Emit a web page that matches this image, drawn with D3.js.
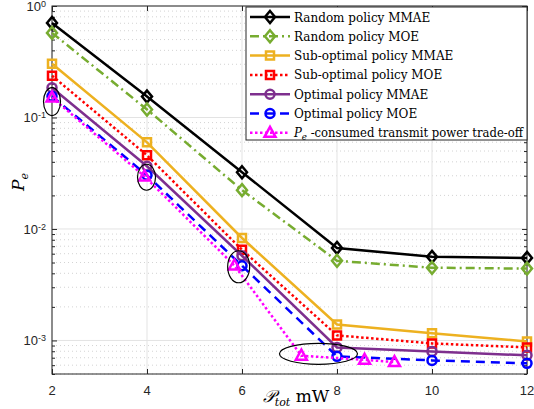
<!DOCTYPE html>
<html>
<head>
<meta charset="utf-8">
<script src="https://cdn.jsdelivr.net/npm/d3@7"></script>
<style>
  body { margin: 0; background: #fff; }
  svg { display: block; }
  .tick-label { font-family: "Liberation Sans", Arial, sans-serif; font-size: 13px; fill: #262626; }
  .legend text { font-family: "DejaVu Serif", serif; font-size: 12px; fill: #000; }
</style>
</head>
<body>
<svg id="chart" width="534" height="409"></svg>
<script>
// power budget (mW)
var powers = [2, 4, 6, 8, 10, 12];
var randomMMAE = [0.705, 0.154, 0.0323, 0.00676, 0.00562, 0.0055];
var randomMOE = [0.574, 0.118, 0.0223, 0.00518, 0.00449, 0.00441];
var subMMAE = [0.303, 0.0598, 0.0083, 0.00139, 0.00116, 0.00098];
var subMOE = [0.237, 0.0458, 0.0065, 0.00111, 0.00094, 0.000866];
var optMMAE = [0.185, 0.0365, 0.00575, 0.000866, 0.000797, 0.000735];
var optMOE = [0.155, 0.0303, 0.00468, 0.00072, 0.000662, 0.000623];
// trade-off curve: consumed power vs Pe
var tradeX = [2, 3.95, 5.84, 7.25, 8.58, 9.21];
var tradeY = [0.151, 0.0296, 0.0047, 0.00073, 0.00067, 0.00064];
// highlighted operating points
var circledX = [2, 3.99, 5.93, 7.61];
var circledY = [0.139, 0.0291, 0.00458, 0.000758];

var xTicks = [2, 4, 6, 8, 10, 12];
var yTicks = [1e-3, 1e-2, 1e-1, 1];
var yTickLabels = ["-3", "-2", "-1", "0"];

var series = [
  {name: "Random policy MMAE", y: randomMMAE, color: "#000000", dash: null, marker: "diamond"},
  {name: "Random policy MOE", y: randomMOE, color: "#77AC30", dash: "9,4,2,4", marker: "diamond"},
  {name: "Sub-optimal policy MMAE", y: subMMAE, color: "#EDB120", dash: null, marker: "square"},
  {name: "Sub-optimal policy MOE", y: subMOE, color: "#FF0000", dash: "2.5,2.5", marker: "square"},
  {name: "Optimal policy MMAE", y: optMMAE, color: "#7E2F8E", dash: null, marker: "circle"},
  {name: "Optimal policy MOE", y: optMOE, color: "#0000FF", dash: "9,6", marker: "circle"},
  {name: "trade", x: tradeX, y: tradeY, color: "#FF00FF", dash: "2.5,2.5", marker: "triangle"}
];

var svg = d3.select("#chart");
var margin = {left: 52, right: 7, top: 6, bottom: 35};
var width = 534 - margin.left - margin.right,
    height = 409 - margin.top - margin.bottom;

var x = d3.scaleLinear().domain([2, 12]).range([0, width]);
var y = d3.scaleLog().domain([5e-4, 1]).range([height, 0]);

var g = svg.append("g").attr("transform", "translate(" + margin.left + "," + margin.top + ")");

// minor y values
var minor = [];
[1e-4, 1e-3, 1e-2, 1e-1].forEach(function(d){
  for (var k = 2; k <= 9; k++) { var v = d * k; if (v >= 5e-4 && v < 1) minor.push(v); }
});

// grid
g.append("g").selectAll("line").data(minor).enter().append("line")
  .attr("x1", 0).attr("x2", width)
  .attr("y1", function(d){ return y(d); }).attr("y2", function(d){ return y(d); })
  .attr("stroke", "#c8c8c8").attr("stroke-width", 0.8).attr("stroke-dasharray", "1,3");
g.append("g").selectAll("line").data(yTicks).enter().append("line")
  .attr("x1", 0).attr("x2", width)
  .attr("y1", function(d){ return y(d); }).attr("y2", function(d){ return y(d); })
  .attr("stroke", "#e3e3e3").attr("stroke-width", 1);
g.append("g").selectAll("line").data(xTicks).enter().append("line")
  .attr("y1", 0).attr("y2", height)
  .attr("x1", function(d){ return x(d); }).attr("x2", function(d){ return x(d); })
  .attr("stroke", "#e3e3e3").attr("stroke-width", 1);

// axes with inward ticks
var axisColor = "#262626";
function styleAxis(sel){
  sel.select(".domain").remove();
  sel.selectAll(".tick line").attr("stroke", axisColor);
}
g.append("g").attr("transform", "translate(0," + height + ")")
  .call(d3.axisBottom(x).tickValues(xTicks).tickSize(-5).tickFormat(""))
  .call(styleAxis);
g.append("g")
  .call(d3.axisTop(x).tickValues(xTicks).tickSize(-5).tickFormat(""))
  .call(styleAxis);
g.append("g").call(d3.axisLeft(y).tickValues(yTicks).tickSize(-5).tickFormat("")).call(styleAxis);
g.append("g").call(d3.axisLeft(y).tickValues(minor).tickSize(-3).tickFormat("")).call(styleAxis);
g.append("g").attr("transform", "translate(" + width + ",0)")
  .call(d3.axisRight(y).tickValues(yTicks).tickSize(-5).tickFormat("")).call(styleAxis);
g.append("g").attr("transform", "translate(" + width + ",0)")
  .call(d3.axisRight(y).tickValues(minor).tickSize(-3).tickFormat("")).call(styleAxis);
g.append("rect").attr("width", width).attr("height", height)
  .attr("fill", "none").attr("stroke", axisColor).attr("stroke-width", 1);

// tick labels
g.selectAll(".xl").data(xTicks).enter().append("text")
  .attr("class", "tick-label").attr("x", function(d){ return x(d); })
  .attr("y", height + 21).attr("text-anchor", "middle").text(function(d){ return d; });
var yl = g.selectAll(".yl").data(yTicks).enter().append("text")
  .attr("class", "tick-label").attr("y", function(d){ return y(d) + 5; });
yl.append("tspan").text("10");
yl.append("tspan").attr("dy", -4).attr("font-size", 9).text(function(d, i){ return yTickLabels[i]; });
// keep the superscript right aligned
yl.attr("x", function(){ return -6 - this.getComputedTextLength(); });

// axis titles
var xt = svg.append("text").attr("x", 296).attr("y", 402).attr("text-anchor", "middle")
  .style("font-family", "'DejaVu Serif', serif").style("font-size", "17px");
xt.append("tspan").style("font-style", "italic").text("\uD835\uDCAB");
xt.append("tspan").attr("dy", 4).style("font-size", "11px").style("font-style", "italic").text("tot");
xt.append("tspan").attr("dy", -4).text(" mW");
var ytl = svg.append("text").attr("transform", "translate(24,182) rotate(-90)").attr("text-anchor", "middle")
  .style("font-family", "'DejaVu Serif', serif").style("font-size", "17px");
ytl.append("tspan").style("font-style", "italic").text("P");
ytl.append("tspan").attr("dy", 4).style("font-size", "11px").style("font-style", "italic").text("e");

// markers
function markerPath(type){
  if (type === "diamond") return "M0,-6L5,0L0,6L-5,0Z";
  if (type === "square") return "M-4,-4H4V4H-4Z";
  if (type === "circle") return "M-4.5,0A4.5,4.5 0 1,0 4.5,0A4.5,4.5 0 1,0 -4.5,0Z";
  return "M0,-6L5.5,4L-5.5,4Z";
}

var line = d3.line().x(function(d){ return x(d[0]); }).y(function(d){ return y(d[1]); });
var plot = g.append("g");
series.forEach(function(s){
  var xs = s.x || powers;
  var pts = s.y.map(function(v, i){ return [xs[i], v]; });
  plot.append("path").datum(pts).attr("d", line)
    .attr("fill", "none").attr("stroke", s.color).attr("stroke-width", 2.5)
    .attr("stroke-dasharray", s.dash);
  plot.selectAll(null).data(pts).enter().append("path")
    .attr("transform", function(d){ return "translate(" + x(d[0]) + "," + y(d[1]) + ")"; })
    .attr("d", markerPath(s.marker))
    .attr("fill", "none").attr("stroke", s.color).attr("stroke-width", 2.5);
});

// ellipses around operating points
var radii = [[8.5, 14], [9, 13], [11, 16], [39, 10.5]];
plot.selectAll(".ell").data(circledX).enter().append("ellipse")
  .attr("cx", function(d){ return x(d); })
  .attr("cy", function(d, i){ return y(circledY[i]); })
  .attr("rx", function(d, i){ return radii[i][0]; })
  .attr("ry", function(d, i){ return radii[i][1]; })
  .attr("fill", "none").attr("stroke", "#000").attr("stroke-width", 1.2);

// legend
var leg = svg.append("g").attr("class", "legend");
leg.append("rect").attr("x", 246).attr("y", 7).attr("width", 281).attr("height", 133)
  .attr("fill", "#fff").attr("stroke", axisColor).attr("stroke-width", 1);
series.forEach(function(s, i){
  var ry = 17 + i * 19.3;
  leg.append("line").attr("x1", 250).attr("x2", 290).attr("y1", ry).attr("y2", ry)
    .attr("stroke", s.color).attr("stroke-width", 2.5).attr("stroke-dasharray", s.dash);
  leg.append("path").attr("transform", "translate(270," + ry + ")").attr("d", markerPath(s.marker))
    .attr("fill", "none").attr("stroke", s.color).attr("stroke-width", 2.5);
  var t = leg.append("text").attr("x", 294).attr("y", ry + 4.5);
  if (s.name === "trade") {
    t.append("tspan").style("font-style", "italic").text("P");
    t.append("tspan").attr("dy", 3).style("font-size", "9px").style("font-style", "italic").text("e");
    t.append("tspan").attr("dy", -3).text(" -consumed transmit power trade-off");
  } else {
    t.text(s.name);
  }
  // squeeze the text if it would run past the legend box
  var avail = 229;
  if (t.node().getComputedTextLength() > avail) {
    t.attr("textLength", avail).attr("lengthAdjust", "spacingAndGlyphs");
  }
});
</script>
</body>
</html>
